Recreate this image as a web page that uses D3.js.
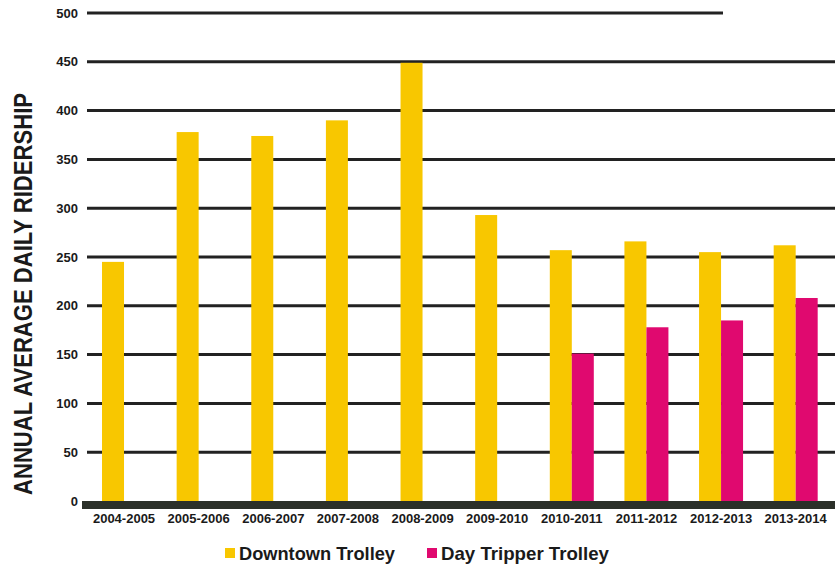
<!DOCTYPE html>
<html><head><meta charset="utf-8">
<script src="https://cdn.jsdelivr.net/npm/d3@7"></script>
<style>
html,body{margin:0;padding:0;background:#fff;}
svg text{font-family:"Liberation Sans",Arial,sans-serif;font-weight:bold;fill:#1a1a1a;}
</style></head>
<body><svg id="c" width="835" height="567"></svg>
<script>
const categories = ["2004-2005","2005-2006","2006-2007","2007-2008","2008-2009","2009-2010","2010-2011","2011-2012","2012-2013","2013-2014"];
const downtownTrolley = [245,378,374,390,449,293,257,266,255,262];
const dayTripperTrolley = [null,null,null,null,null,null,151,178,185,208];
const yTicks = [0,50,100,150,200,250,300,350,400,450,500];
const seriesNames = ["Downtown Trolley","Day Tripper Trolley"];
const seriesColors = ["#f8c700","#e0096f"];

const svg = d3.select("#c");
const x = d3.scaleBand().domain(categories).range([86.7, 833]).padding(0);
const y = d3.scaleLinear().domain([0,500]).range([501, 13]);
const barW = 22;

// gridlines
svg.append("g").selectAll("line").data(yTicks.filter(d=>d>0)).join("line")
  .attr("x1", 87).attr("x2", d => d===500 ? 723 : 835)
  .attr("y1", d=>y(d)).attr("y2", d=>y(d))
  .attr("stroke","#222").attr("stroke-width",3);

// tick labels
svg.append("g").selectAll("text").data(yTicks).join("text")
  .attr("x", 78).attr("y", d=>y(d)).attr("dy","0.36em")
  .attr("text-anchor","end").attr("font-size",13).text(d=>d);

// bars
svg.append("g").selectAll("rect").data(categories.map((c,i)=>({c,v:downtownTrolley[i]})).filter(d=>d.v!=null)).join("rect")
  .attr("x", d=>x(d.c)+x.bandwidth()/2-barW).attr("width", barW)
  .attr("y", d=>y(d.v)).attr("height", d=>y(0)-y(d.v)).attr("fill", seriesColors[0]);
svg.append("g").selectAll("rect").data(categories.map((c,i)=>({c,v:dayTripperTrolley[i]})).filter(d=>d.v!=null)).join("rect")
  .attr("x", d=>x(d.c)+x.bandwidth()/2).attr("width", barW)
  .attr("y", d=>y(d.v)).attr("height", d=>y(0)-y(d.v)).attr("fill", seriesColors[1]);

// axis base bar
svg.append("rect").attr("x",82).attr("y",y(0)).attr("width",835-82).attr("height",8).attr("fill","#2b3029");

// x labels
svg.append("g").selectAll("text").data(categories).join("text")
  .attr("x", d=>x(d)+x.bandwidth()/2).attr("y", 523)
  .attr("text-anchor","middle").attr("font-size",13).text(d=>d);

// y title
svg.append("text").attr("transform","translate(32,294) rotate(-90)")
  .attr("text-anchor","middle").attr("font-size",25)
  .attr("textLength",402).attr("lengthAdjust","spacingAndGlyphs")
  .text("ANNUAL AVERAGE DAILY RIDERSHIP");

// legend
const legX = [225, 427], legTextW = [156, 168];
seriesNames.forEach((n,i)=>{
  svg.append("rect").attr("x",legX[i]).attr("y",548).attr("width",10).attr("height",10).attr("fill",seriesColors[i]);
  svg.append("text").attr("x",legX[i]+14).attr("y",560).attr("font-size",19)
    .attr("textLength",legTextW[i]).attr("lengthAdjust","spacingAndGlyphs").text(n);
});
</script></body></html>
